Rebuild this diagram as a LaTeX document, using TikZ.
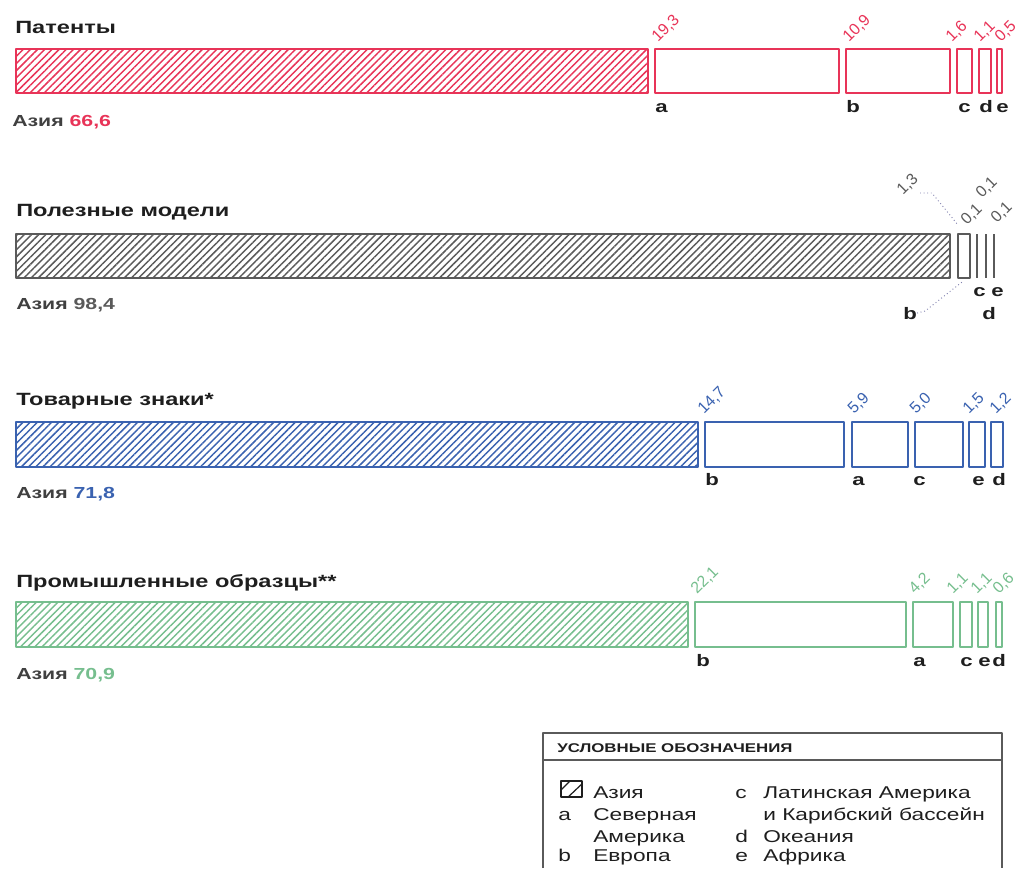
\documentclass[tikz,border=0pt]{standalone}
\usepackage{fontspec}
\setmainfont{Liberation Sans}[FakeStretch=1.33]
\newfontfamily\valfont{Liberation Sans}
\usetikzlibrary{patterns.meta,calc}
\definecolor{pat}{RGB}{232,52,88}
\definecolor{mod}{RGB}{90,90,90}
\definecolor{tm}{RGB}{58,98,176}
\definecolor{ind}{RGB}{118,190,142}
\definecolor{ink}{RGB}{30,30,30}
\definecolor{lead}{RGB}{130,130,175}
\begin{document}
\begin{tikzpicture}[x=0.75pt, y=-0.75pt, line join=round,
	bar/.style={line width=1.1pt, pattern={Lines[angle=45,distance=3.8pt,line width=1.1pt]}},
	box/.style={line width=1.1pt},
	ttl/.style={anchor=base west, inner sep=0pt, text=ink, font=\fontsize{13.3}{16}\selectfont\bfseries},
	asia/.style={anchor=base west, inner sep=0pt, text=ink!85, font=\fontsize{12}{15}\selectfont\bfseries},
	val/.style={anchor=base west, inner sep=0pt, rotate=45, font=\valfont\fontsize{12}{14}\selectfont},
	lett/.style={anchor=base west, inner sep=0pt, text=ink, font=\fontsize{12.5}{15}\selectfont\bfseries},
	leg/.style={anchor=base west, inner sep=0pt, text=ink, font=\fontsize{12.8}{15}\selectfont},
	leader/.style={draw=lead, dotted, line width=0.7pt}]
	\useasboundingbox (0,0) rectangle (1025,868);
	% Патенты
	\node[ttl] (t-pat) at (15,33) {Патенты};
	\draw[bar, draw=pat, pattern color=pat] (16,49) rectangle (648,93);
	\node[asia] (a-pat) at (12,126) {Азия \textcolor{pat}{66,6}};
	\foreach \l/\r/\v/\c/\vx/\cx in {655/839/{19,3}/a/658/655, 846/950/{10,9}/b/849/846, 957/972/{1,6}/c/952/958, 979/991/{1,1}/d/980/979, 997/1002/{0,5}/e/1001/996}
	{ \draw[box, draw=pat] (\l,49) rectangle (\r,93);
	  \node[val, text=pat] (v-pat-\c) at (\vx,43) {\v};
	  \node[lett] (c-pat-\c) at (\cx,112) {\c}; }
	% Полезные модели
	\node[ttl] (t-um) at (16,216) {Полезные модели};
	\draw[bar, draw=mod, pattern color=mod] (16,234) rectangle (950,278);
	\node[asia] (a-um) at (16,309) {Азия \textcolor{mod}{98,4}};
	\draw[box, draw=mod] (958,234) coordinate (um-nw) rectangle (970,278) coordinate (um-se);
	\foreach \x in {977,986,994} \draw[draw=mod, line width=1.3pt] (\x,234) -- (\x,278);
	\node[val, text=mod] (v-um-b) at (903,196) {1,3};
	\node[val, text=mod] (v-um-c) at (967,226) {0,1};
	\node[val, text=mod] (v-um-d) at (982,199) {0,1};
	\node[val, text=mod] (v-um-e) at (997,224) {0,1};
	\node[lett] (c-um-c) at (973,296) {c};
	\node[lett] (c-um-e) at (991,296) {e};
	\node[lett] (c-um-d) at (982,319) {d};
	\node[lett] (c-um-b) at (903,319) {b};
	\coordinate (um-lead) at (920,193);
	\draw[leader] (um-lead) -- ++(12,0) -- ($(um-nw)+(0,-9)$);
	\draw[leader] (c-um-b.east) -- ++(8,-2) -- ($(um-nw |- um-se)+(4,4)$);
	% Товарные знаки
	\node[ttl] (t-tm) at (16,405) {Товарные знаки*};
	\draw[bar, draw=tm, pattern color=tm] (16,422) rectangle (698,467);
	\node[asia] (a-tm) at (16,498) {Азия \textcolor{tm}{71,8}};
	\foreach \l/\r/\v/\c/\vx/\cx in {705/844/{14,7}/b/704/705, 852/908/{5,9}/a/854/852, 915/963/{5,0}/c/916/913, 969/985/{1,5}/e/969/972, 991/1003/{1,2}/d/996/992}
	{ \draw[box, draw=tm] (\l,422) rectangle (\r,467);
	  \node[val, text=tm] (v-tm-\c) at (\vx,415) {\v};
	  \node[lett] (c-tm-\c) at (\cx,485) {\c}; }
	% Промышленные образцы
	\node[ttl] (t-id) at (16,587) {Промышленные образцы**};
	\draw[bar, draw=ind, pattern color=ind] (16,602) rectangle (688,647);
	\node[asia] (a-id) at (16,679) {Азия \textcolor{ind}{70,9}};
	\foreach \l/\r/\v/\c/\vx/\cx in {695/906/{22,1}/b/697/696, 913/953/{4,2}/a/915/913, 960/972/{1,1}/c/953/960, 978/988/{1,1}/e/977/978, 996/1002/{0,6}/d/999/992}
	{ \draw[box, draw=ind] (\l,602) rectangle (\r,647);
	  \node[val, text=ind] (v-id-\c) at (\vx,595) {\v};
	  \node[lett] (c-id-\c) at (\cx,666) {\c}; }
	% условные обозначения
	\draw[draw=mod, line width=1.1pt] (543,868) -- (543,733) -- (1002,733) -- (1002,868);
	\draw[draw=mod, line width=1.1pt] (543,760) -- (1002,760);
	\node[anchor=base west, inner sep=0pt, text=ink, font=\fontsize{9.5}{11}\selectfont\bfseries] (leg-t) at (557,752) {УСЛОВНЫЕ ОБОЗНАЧЕНИЯ};
	\draw[draw=ink, line width=0.9pt] (561,781) rectangle (582,797);
	\begin{scope}
		\clip (561,781) rectangle (582,797);
		\draw[draw=ink, line width=0.9pt] (559,792) -- (572,779) (566,799) -- (584,782);
	\end{scope}
	\node[leg] (l-asia) at (593,798) {Азия};
	\node[leg] (l-a) at (558,820) {a};
	\node[leg] (l-na) at (593,820) {Северная};
	\node[leg] (l-na2) at (593,842) {Америка};
	\node[leg] (l-b) at (558,861) {b};
	\node[leg] (l-eu) at (593,861) {Европа};
	\node[leg] (l-c) at (735,798) {c};
	\node[leg] (l-la) at (763,798) {Латинская Америка};
	\node[leg] (l-la2) at (763,820) {и Карибский бассейн};
	\node[leg] (l-d) at (735,842) {d};
	\node[leg] (l-oc) at (763,842) {Океания};
	\node[leg] (l-e) at (735,861) {e};
	\node[leg] (l-af) at (763,861) {Африка};
\end{tikzpicture}
\end{document}
